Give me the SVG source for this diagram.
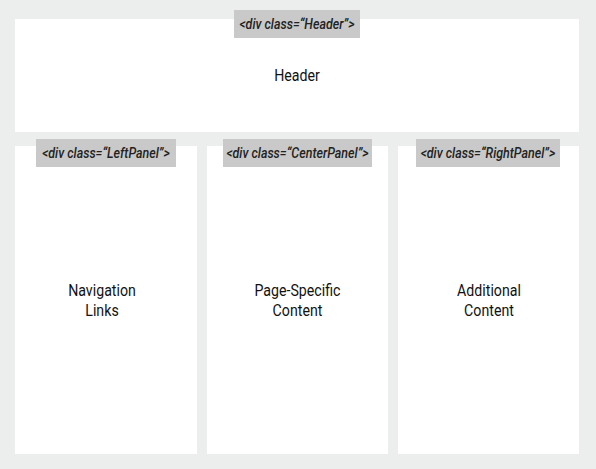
<svg xmlns="http://www.w3.org/2000/svg" width="596" height="469" viewBox="0 0 596 469">
<style>
.panel{fill:#ffffff}
.tag{fill:#c8c9c8}
.tagt{font-family:Roboto,"Liberation Sans",sans-serif;font-style:italic;font-weight:500;font-size:14.5px;fill:#222;text-anchor:middle}
.lbl{font-family:Roboto,"Liberation Sans",sans-serif;font-weight:400;font-size:16.5px;fill:#111;text-anchor:middle}
</style>
<rect x="0" y="0" width="596" height="469" fill="#eceeed"/>
<g id="header">
<rect class="panel" x="15" y="19" width="564" height="113"/>
<rect class="tag" x="234" y="10" width="126" height="28"/>
<text class="tagt" x="297" y="29" transform="translate(297 0) scale(0.86 1) translate(-297 0)">&lt;div class=“Header”&gt;</text>
<text class="lbl" x="297" y="81" transform="translate(297 0) scale(0.86 1) translate(-297 0)">Header</text>
</g>
<g id="leftpanel">
<rect class="panel" x="15" y="146" width="182" height="308"/>
<rect class="tag" x="36" y="139" width="140" height="28"/>
<text class="tagt" x="106" y="158" transform="translate(106 0) scale(0.86 1) translate(-106 0)">&lt;div class=“LeftPanel”&gt;</text>
<text class="lbl" x="102" y="296" transform="translate(102 0) scale(0.86 1) translate(-102 0)">Navigation</text>
<text class="lbl" x="102" y="316" transform="translate(102 0) scale(0.86 1) translate(-102 0)">Links</text>
</g>
<g id="centerpanel">
<rect class="panel" x="207" y="146" width="181" height="308"/>
<rect class="tag" x="223" y="139" width="149" height="28"/>
<text class="tagt" x="297.5" y="158" transform="translate(297.5 0) scale(0.86 1) translate(-297.5 0)">&lt;div class=“CenterPanel”&gt;</text>
<text class="lbl" x="297.5" y="296" transform="translate(297.5 0) scale(0.86 1) translate(-297.5 0)">Page-Specific</text>
<text class="lbl" x="297.5" y="316" transform="translate(297.5 0) scale(0.86 1) translate(-297.5 0)">Content</text>
</g>
<g id="rightpanel">
<rect class="panel" x="398" y="146" width="181" height="308"/>
<rect class="tag" x="416" y="139" width="144" height="28"/>
<text class="tagt" x="488" y="158" transform="translate(488 0) scale(0.86 1) translate(-488 0)">&lt;div class=“RightPanel”&gt;</text>
<text class="lbl" x="489" y="296" transform="translate(489 0) scale(0.86 1) translate(-489 0)">Additional</text>
<text class="lbl" x="489" y="316" transform="translate(489 0) scale(0.86 1) translate(-489 0)">Content</text>
</g>
<g id="connectors"></g>
</svg>
